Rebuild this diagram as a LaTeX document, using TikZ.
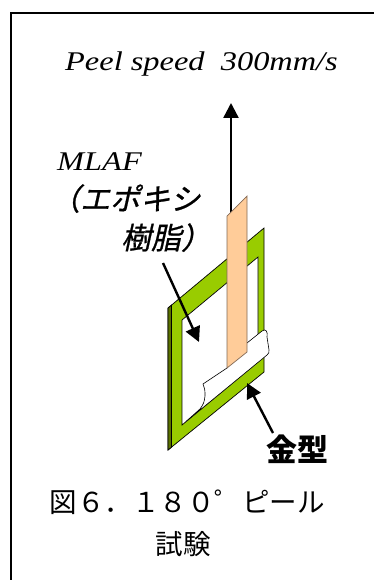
\documentclass[tikz,border=0pt]{standalone}
\usepackage{fontspec}
\setmainfont{Liberation Serif}
\newfontfamily\widserif{Liberation Serif}[FakeStretch=1.2]
\newfontfamily\jpfont{Noto Sans CJK JP}
\newfontfamily\jpslant{Noto Sans CJK JP}[FakeSlant=0.22,FakeBold=0.8]
\usetikzlibrary{arrows.meta}
\definecolor{framegreen}{RGB}{153,204,0}
\definecolor{frameside}{RGB}{90,112,0}
\definecolor{stripfill}{RGB}{255,204,153}
\definecolor{stripedge}{RGB}{130,105,85}

\begin{document}
\begin{tikzpicture}[x=1pt,y=-1pt,
  txt/.style={inner sep=0pt, anchor=base west},
  pointer/.style={line width=2.4pt, -{Triangle[length=15pt,width=15pt]}},
  outline/.style={line width=0.7pt, line join=miter}]
\useasboundingbox (0,0) rectangle (373,580);

% outer border (runs past the right and bottom edges)
\draw[line width=2pt] (11,583) -- (11,13) -- (376,13);

% mould: green frame seen at an angle, with its dark side face
\filldraw[fill=framegreen, draw=black, outline]
  (168,308) -- (264,228) -- (264,372) -- (168,450) -- cycle;
\filldraw[fill=frameside, draw=black, outline]
  (168,308) -- (171.5,305.2) -- (171.5,447.2) -- (168,450) -- cycle;
\filldraw[fill=white, draw=black, outline]
  (182,320) -- (258,257) -- (258,362) -- (182,425) -- cycle;

% pull direction
\coordinate (pullstart) at (231,214);
\coordinate (pulltip) at (231,103);
\draw[pointer] (pullstart) -- (pulltip);

% folded white tape at the lower end of the film
\filldraw[fill=white, draw=black, line width=0.6pt]
  (247,343) -- (262,331) .. controls (266,328) and (268,332) .. (267,337)
  -- (269,350) .. controls (269,353) .. (267,355)
  -- (186,421.5) -- (200,409) .. controls (204,403) .. (205,396)
  .. controls (205,390) .. (203,384) -- (227,368) -- cycle;

% peeled film strip
\filldraw[fill=stripfill, draw=stripedge, outline]
  (227,216) -- (247,196) -- (247,352) -- (227,368) -- cycle;

% labels
\node[txt, font=\widserif\fontsize{27}{27}\selectfont\itshape] (speed) at (65,71) {Peel speed\ \ 300mm/s};
\node[txt, font=\widserif\fontsize{27}{27}\selectfont\itshape] (mlaf) at (57,170) {MLAF};
\node[txt, font=\jpslant\fontsize{30}{30}\selectfont] (resinA) at (50,210) {（エポキシ};
\node[txt, font=\jpslant\fontsize{30}{30}\selectfont] (resinB) at (121,249) {樹脂）};
\node[txt, font=\jpfont\bfseries\fontsize{31}{31}\selectfont] (mold) at (266,461) {金型};
\node[inner sep=0pt, anchor=base, font=\jpfont\fontsize{27.5}{27.5}\selectfont] (capA) at (187,512) {図６．１８０゜ピール};
\node[inner sep=0pt, anchor=base, font=\jpfont\fontsize{27.5}{27.5}\selectfont] (capB) at (183,554) {試験};

% pointers from labels
\coordinate (resintail) at (163,263);
\coordinate (resintip) at (199,342);
\draw[pointer] (resintail) -- (resintip);
\coordinate (moldtail) at (273,433);
\coordinate (moldtip) at (247,383);
\draw[pointer] (moldtail) -- (moldtip);
\end{tikzpicture}
\end{document}
